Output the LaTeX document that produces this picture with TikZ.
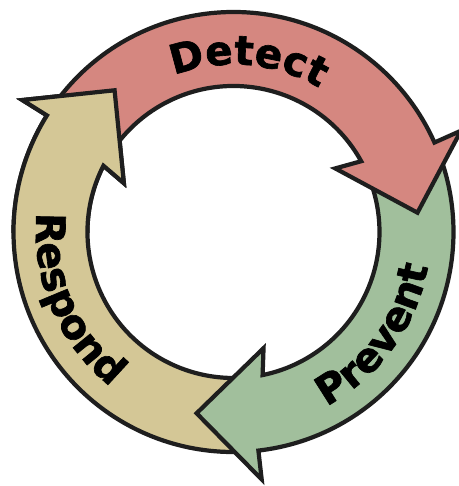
\documentclass[tikz,border=0pt]{standalone}
\usepackage{fontspec}
\setsansfont{DejaVu Sans}
\newfontfamily\heavyfont{DejaVu Sans}[BoldFeatures={FakeBold=1.6}]
\usetikzlibrary{decorations.text}
\definecolor{detectred}{RGB}{213,135,128}
\definecolor{preventgreen}{RGB}{161,191,156}
\definecolor{respondtan}{RGB}{212,199,150}
\definecolor{rim}{RGB}{30,30,30}
\tikzset{
  ringarrow/.style={draw=rim,line width=2.4pt,line join=miter},
  ringlabel/.style={decorate,decoration={text along path,text align=center,text={|\labelfont|#1}}}
}
\newcommand{\labelfont}{\heavyfont\bfseries\fontsize{23}{23}\selectfont}
% #1 tail angle, #2 angle where the head starts, #3 fill
\newcommand{\cyclearrow}[3]{%
  \filldraw[ringarrow,fill=#3] (#1:4.4) arc[start angle=#1,end angle=#2,radius=4.4]
    -- ({#2}:4.98) -- ({#2-18}:3.7) -- ({#2+8}:2.4) -- ({#2+5}:2.92)
    arc[start angle={#2+5},end angle=#1,radius=2.92] -- cycle;}

\begin{document}
\begin{tikzpicture}
\useasboundingbox (-4.67,-5.08) rectangle (4.51,4.64);
\cyclearrow{274}{148}{respondtan}
\cyclearrow{21}{-83.5}{preventgreen}
\cyclearrow{145}{24}{detectred}
% respond head lies over the detect tail
\begin{scope}
\clip (-5,0) rectangle (0,5);
\cyclearrow{274}{148}{respondtan}
\end{scope}
\path[ringlabel=Detect] (130:3.35) arc[start angle=130,end angle=40,radius=3.35];
\path[ringlabel=Prevent] (-82:3.95) arc[start angle=-82,end angle=10,radius=3.95];
\path[ringlabel=Respond] (174:3.95) arc[start angle=174,end angle=232,radius=3.95];
\end{tikzpicture}
\end{document}
